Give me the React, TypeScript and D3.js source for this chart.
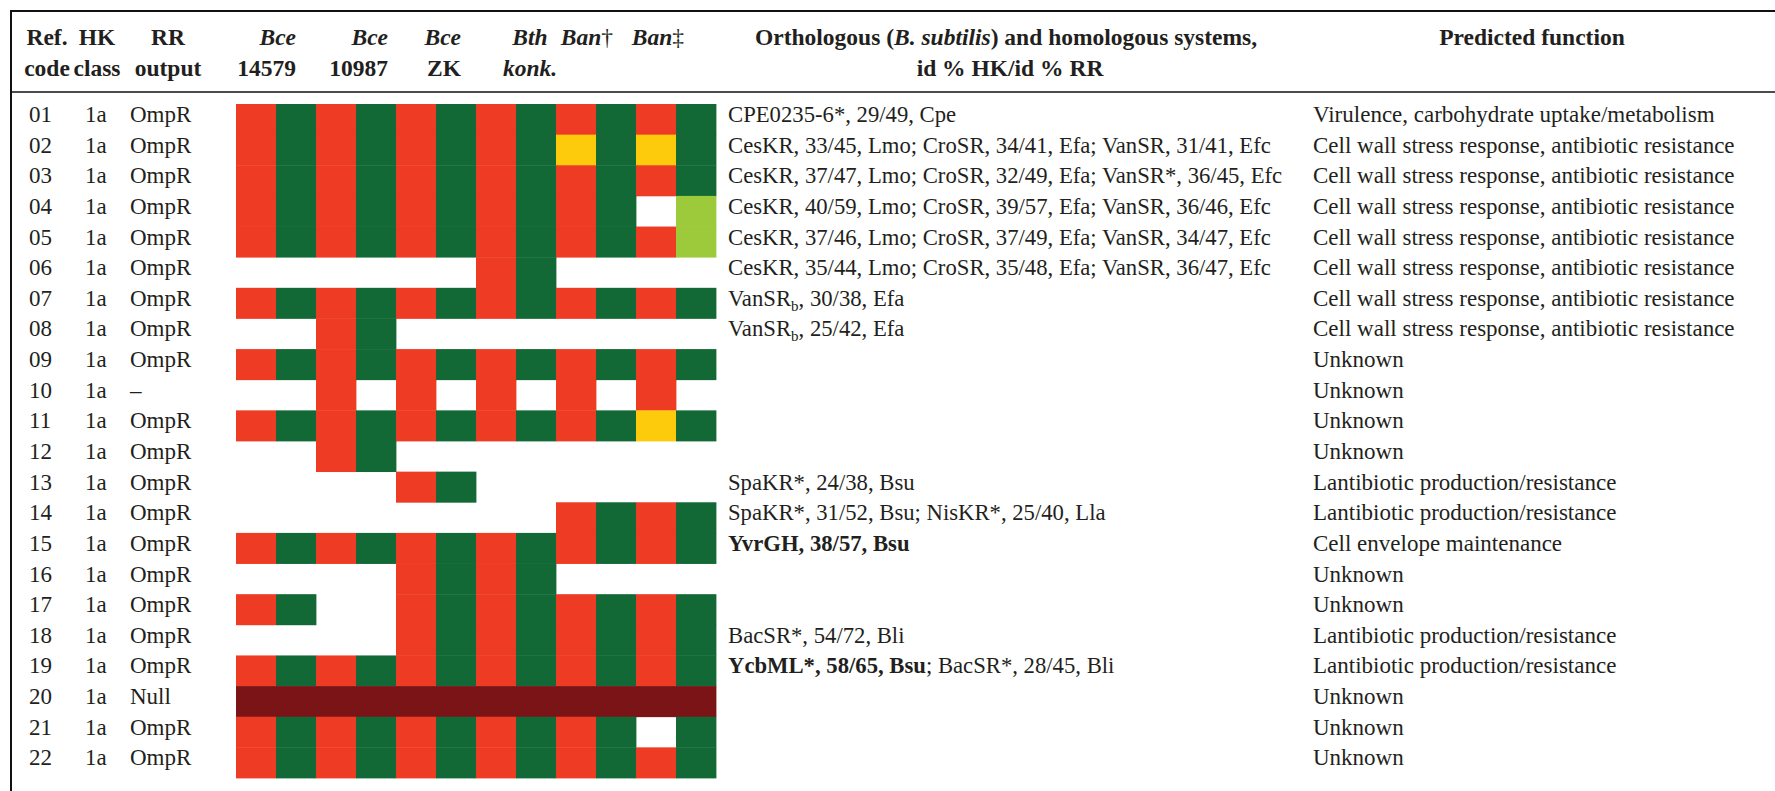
import React from 'react';
import * as d3 from 'd3';

// table rows
const refCodes = ['01','02','03','04','05','06','07','08','09','10','11','12','13','14','15','16','17','18','19','20','21','22'];
const hkClass = ['1a','1a','1a','1a','1a','1a','1a','1a','1a','1a','1a','1a','1a','1a','1a','1a','1a','1a','1a','1a','1a','1a'];
const rrOutput = ['OmpR','OmpR','OmpR','OmpR','OmpR','OmpR','OmpR','OmpR','OmpR','–','OmpR','OmpR','OmpR','OmpR','OmpR','OmpR','OmpR','OmpR','OmpR','Null','OmpR','OmpR'];

// genome columns: HK + RR for each strain
const strains = ['Bce 14579','Bce 10987','Bce ZK','Bth konk.','Ban†','Ban‡'];
const subCols = ['HK','RR'];

// R = red, G = dark green, Y = yellow, L = light green, D = dark red, W = absent
const presence = [
  'RGRGRGRGRGRG',
  'RGRGRGRGYGYG',
  'RGRGRGRGRGRG',
  'RGRGRGRGRGWL',
  'RGRGRGRGRGRL',
  'WWWWWWRGWWWW',
  'RGRGRGRGRGRG',
  'WWRGWWWWWWWW',
  'RGRGRGRGRGRG',
  'WWRWRWRWRWRW',
  'RGRGRGRGRGYG',
  'WWRGWWWWWWWW',
  'WWWWRGWWWWWW',
  'WWWWWWWWRGRG',
  'RGRGRGRGRGRG',
  'WWWWRGRGWWWW',
  'RGWWRGRGRGRG',
  'WWWWRGRGRGRG',
  'RGRGRGRGRGRG',
  'DDDDDDDDDDDD',
  'RGRGRGRGRGWG',
  'RGRGRGRGRGRG',
];

type Seg = { t: string; b?: boolean; sub?: boolean };

const orthologs: Seg[][] = [
  [{ t: 'CPE0235-6*, 29/49, Cpe' }],
  [{ t: 'CesKR, 33/45, Lmo; CroSR, 34/41, Efa; VanSR, 31/41, Efc' }],
  [{ t: 'CesKR, 37/47, Lmo; CroSR, 32/49, Efa; VanSR*, 36/45, Efc' }],
  [{ t: 'CesKR, 40/59, Lmo; CroSR, 39/57, Efa; VanSR, 36/46, Efc' }],
  [{ t: 'CesKR, 37/46, Lmo; CroSR, 37/49, Efa; VanSR, 34/47, Efc' }],
  [{ t: 'CesKR, 35/44, Lmo; CroSR, 35/48, Efa; VanSR, 36/47, Efc' }],
  [{ t: 'VanSR' }, { t: 'b', sub: true }, { t: ', 30/38, Efa' }],
  [{ t: 'VanSR' }, { t: 'b', sub: true }, { t: ', 25/42, Efa' }],
  [],
  [],
  [],
  [],
  [{ t: 'SpaKR*, 24/38, Bsu' }],
  [{ t: 'SpaKR*, 31/52, Bsu; NisKR*, 25/40, Lla' }],
  [{ t: 'YvrGH, 38/57, Bsu', b: true }],
  [],
  [],
  [{ t: 'BacSR*, 54/72, Bli' }],
  [{ t: 'YcbML*, 58/65, Bsu', b: true }, { t: '; BacSR*, 28/45, Bli' }],
  [],
  [],
  [],
];

const functions = [
  'Virulence, carbohydrate uptake/metabolism',
  'Cell wall stress response, antibiotic resistance',
  'Cell wall stress response, antibiotic resistance',
  'Cell wall stress response, antibiotic resistance',
  'Cell wall stress response, antibiotic resistance',
  'Cell wall stress response, antibiotic resistance',
  'Cell wall stress response, antibiotic resistance',
  'Cell wall stress response, antibiotic resistance',
  'Unknown',
  'Unknown',
  'Unknown',
  'Unknown',
  'Lantibiotic production/resistance',
  'Lantibiotic production/resistance',
  'Cell envelope maintenance',
  'Unknown',
  'Unknown',
  'Lantibiotic production/resistance',
  'Lantibiotic production/resistance',
  'Unknown',
  'Unknown',
  'Unknown',
];

const cellColors: Record<string, string> = {
  R: '#ee3b24',
  G: '#136936',
  Y: '#fdca0c',
  L: '#9cca3b',
  D: '#7b1417',
  W: 'none',
};

const W = 1775;
const H = 791;
const FONT = '"Liberation Serif", "DejaVu Serif", serif';
const INK = '#231f20';

export default function App() {
  const cols = strains.flatMap(s => subCols.map(c => `${s}|${c}`));
  const x = d3.scaleBand<string>().domain(cols).range([236, 716]);
  const y = d3.scaleBand<string>().domain(refCodes).range([104, 778]);

  // header anchors for the strain labels
  const strainHead = [
    { top: 'Bce', bot: '14579', x: 296, anchor: 'end' },
    { top: 'Bce', bot: '10987', x: 388, anchor: 'end' },
    { top: 'Bce', bot: 'ZK', x: 461, anchor: 'end' },
    { top: 'Bth', bot: 'konk.', x: 530, anchor: 'middle', italicBot: true },
    { top: 'Ban', mark: '†', bot: '', x: 613, anchor: 'end' },
    { top: 'Ban', mark: '‡', bot: '', x: 684, anchor: 'end' },
  ];

  const h1 = 45;
  const h2 = 76;
  const base = (code: string) => (y(code) as number) + 18;

  return (
    <svg width={W} height={H} style={{ position: 'absolute', left: 0, top: 0, background: '#fff' }}
      fontFamily={FONT} fill={INK}>
      <rect x={0} y={0} width={W} height={H} fill="#fff" />
      {/* frame */}
      <line x1={10} x2={W} y1={11} y2={11} stroke="#111" strokeWidth={2} />
      <line x1={11} x2={11} y1={10} y2={H} stroke="#111" strokeWidth={2} />
      <line x1={11} x2={W} y1={92} y2={92} stroke="#111" strokeWidth={1.5} />

      {/* header */}
      <g fontWeight="bold" fontSize={23.5}>
        <text x={47} y={h1} textAnchor="middle">Ref.</text>
        <text x={47} y={h2} textAnchor="middle">code</text>
        <text x={97} y={h1} textAnchor="middle">HK</text>
        <text x={97} y={h2} textAnchor="middle">class</text>
        <text x={168} y={h1} textAnchor="middle">RR</text>
        <text x={168} y={h2} textAnchor="middle">output</text>
        {strainHead.map((s, i) => (
          <g key={i}>
            <text x={s.x} y={h1} textAnchor={s.anchor}>
              <tspan fontStyle="italic">{s.top}</tspan>
              {s.mark ? <tspan fontWeight="normal">{s.mark}</tspan> : null}
            </text>
            {s.bot ? (
              <text x={s.x} y={h2} textAnchor={s.anchor} fontStyle={s.italicBot ? 'italic' : 'normal'}>{s.bot}</text>
            ) : null}
          </g>
        ))}
        <text x={1006} y={h1} textAnchor="middle">
          Orthologous (<tspan fontStyle="italic">B. subtilis</tspan>) and homologous systems,
        </text>
        <text x={1010} y={h2} textAnchor="middle">id % HK/id % RR</text>
        <text x={1532} y={h1} textAnchor="middle">Predicted function</text>
      </g>

      {/* presence grid */}
      <g>
        {refCodes.map((code, r) =>
          cols.map((c, ci) => {
            const k = presence[r][ci];
            if (k === 'W') return null;
            return (
              <rect key={code + c} x={x(c)} y={y(code)} width={x.bandwidth() + 0.4}
                height={y.bandwidth() + 0.4} fill={cellColors[k]} />
            );
          })
        )}
      </g>

      {/* body text */}
      <g fontSize={23}>
        {refCodes.map((code, r) => (
          <g key={code}>
            <text x={29} y={base(code)}>{code}</text>
            <text x={85} y={base(code)}>{hkClass[r]}</text>
            <text x={130} y={base(code)}>{rrOutput[r]}</text>
            {orthologs[r].length ? (
              <text x={728} y={base(code)} fontSize={22.7}>
                {orthologs[r].map((s, i) => {
                  const prevSub = i > 0 && orthologs[r][i - 1].sub;
                  return (
                    <tspan key={i} fontWeight={s.b ? 'bold' : 'normal'}
                      fontSize={s.sub ? 15 : 22.7}
                      dy={s.sub ? 5 : prevSub ? -5 : 0}>{s.t}</tspan>
                  );
                })}
              </text>
            ) : null}
            <text x={1313} y={base(code)}>{functions[r]}</text>
          </g>
        ))}
      </g>
    </svg>
  );
}
